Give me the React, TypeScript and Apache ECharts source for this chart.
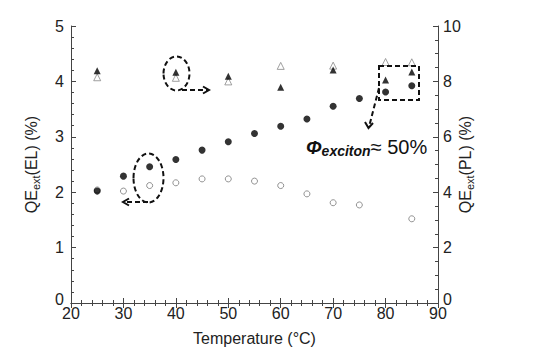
import React, { useEffect, useRef } from "react";
import * as echarts from "echarts";

const temps = [25, 30, 35, 40, 45, 50, 55, 60, 65, 70, 75, 80, 85];
const elFilled = [2.02, 2.29, 2.46, 2.59, 2.76, 2.91, 3.06, 3.19, 3.32, 3.55, 3.69, 3.81, 3.92];
const elOpenTemps = [25, 30, 35, 40, 45, 50, 55, 60, 65, 70, 75, 85];
const elOpen = [2.04, 2.02, 2.12, 2.17, 2.24, 2.24, 2.2, 2.12, 1.97, 1.81, 1.77, 1.52];
const plTemps = [25, 40, 50, 60, 70, 80, 85];
const plFilled = [8.38, 8.33, 8.19, 7.79, 8.41, 8.05, 8.34];
const plOpen = [8.15, 8.13, 8.0, 8.56, 8.57, 8.7, 8.69];
const xTicks = [20, 30, 40, 50, 60, 70, 80, 90];

const FONT = "Liberation Sans, Arial, sans-serif";
const TXT = "#222";
const AX = "#444";

export default function App() {
  const ref = useRef<HTMLDivElement>(null);
  useEffect(() => {
    if (!ref.current) return;
    const chart = echarts.init(ref.current, undefined, { renderer: "svg" });
    const pair = (xs: number[], ys: number[]) => xs.map((x, i) => [x, ys[i]]);
    const axisCommon = {
      axisLine: { show: true, lineStyle: { color: AX, width: 1 } },
      axisTick: { show: true, inside: true, length: 5, lineStyle: { color: AX } },
      minorTick: { show: true, length: 3, lineStyle: { color: AX } },
      splitLine: { show: false },
      minorSplitLine: { show: false },
    };
    const dash = { stroke: "#111", lineWidth: 2, lineDash: [5, 3], fill: "none" };
    const solid = { stroke: "#111", lineWidth: 2, fill: "none" };
    const subRich = {
      a: { fontSize: 16, color: TXT, fontFamily: FONT, lineHeight: 20 },
      s: { fontSize: 11, color: TXT, fontFamily: FONT, lineHeight: 20, verticalAlign: "bottom", padding: [8, 0, 0, 0] },
    };
    const zeroLift = (v: number) => (v === 0 ? "{z|0}" : String(v));
    const zeroRich = { z: { fontSize: 16, color: TXT, fontFamily: FONT, padding: [0, 0, 8, 0] } };
    chart.setOption({
      animation: false,
      backgroundColor: "#fff",
      textStyle: { fontFamily: FONT },
      grid: { left: 71, right: 116, top: 26, bottom: 48 },
      xAxis: [
        {
          type: "value",
          min: xTicks[0],
          max: xTicks[xTicks.length - 1],
          interval: 10,
          ...axisCommon,
          minorTick: { show: true, splitNumber: 5, length: 3, lineStyle: { color: AX } },
          axisLabel: { color: TXT, fontSize: 16, margin: 2, fontFamily: FONT },
          name: "Temperature (°C)",
          nameLocation: "middle",
          nameGap: 27,
          nameMoveOverlap: false,
          nameTextStyle: { color: TXT, fontSize: 16, fontFamily: FONT },
        },
        {
          type: "value",
          position: "top",
          min: xTicks[0],
          max: xTicks[xTicks.length - 1],
          interval: 10,
          ...axisCommon,
          minorTick: { show: true, splitNumber: 5, length: 3, lineStyle: { color: AX } },
          axisLabel: { show: false },
        },
      ],
      yAxis: [
        {
          type: "value",
          min: 0,
          max: 5,
          interval: 1,
          ...axisCommon,
          minorTick: { show: true, splitNumber: 5, length: 3, lineStyle: { color: AX } },
          axisLabel: { color: TXT, fontSize: 16, margin: 7, fontFamily: FONT, formatter: zeroLift, rich: zeroRich },
          name: "{a|QE}{s|ext}{a|(EL) (%)}",
          nameLocation: "middle",
          nameGap: 30,
          nameRotate: 90,
          nameMoveOverlap: false,
          nameTextStyle: { rich: subRich },
        },
        {
          type: "value",
          position: "right",
          min: 0,
          max: 10,
          interval: 2,
          ...axisCommon,
          minorTick: { show: true, splitNumber: 4, length: 3, lineStyle: { color: AX } },
          axisLabel: { color: TXT, fontSize: 16, margin: 5, fontFamily: FONT, formatter: zeroLift, rich: zeroRich },
          name: "{a|QE}{s|ext}{a|(PL) (%)}",
          nameLocation: "middle",
          nameGap: 17,
          nameRotate: 90,
          nameMoveOverlap: false,
          nameTextStyle: { rich: subRich },
        },
      ],
      series: [
        {
          name: "EL open",
          type: "scatter",
          xAxisIndex: 0,
          yAxisIndex: 0,
          symbol: "circle",
          symbolSize: 6,
          itemStyle: { color: "#fff", borderColor: "#777", borderWidth: 1 },
          data: pair(elOpenTemps, elOpen),
        },
        {
          name: "EL filled",
          type: "scatter",
          xAxisIndex: 0,
          yAxisIndex: 0,
          symbol: "circle",
          symbolSize: 7,
          itemStyle: { color: "#000" },
          data: pair(temps, elFilled),
        },
        {
          name: "PL open",
          type: "scatter",
          xAxisIndex: 0,
          yAxisIndex: 1,
          symbol: "triangle",
          symbolSize: 7,
          itemStyle: { color: "#fff", borderColor: "#888", borderWidth: 1 },
          data: pair(plTemps, plOpen),
        },
        {
          name: "PL filled",
          type: "scatter",
          xAxisIndex: 0,
          yAxisIndex: 1,
          symbol: "triangle",
          symbolSize: 7,
          itemStyle: { color: "#000" },
          data: pair(plTemps, plFilled),
        },
      ],
      graphic: [
        { type: "ellipse", shape: { cx: 176.5, cy: 73.5, rx: 13, ry: 17 }, style: dash, z: 10 },
        { type: "line", shape: { x1: 182, y1: 90, x2: 209, y2: 90 }, style: dash, z: 10 },
        { type: "polyline", shape: { points: [[203, 86.5], [209, 90], [203, 93.5]] }, style: solid, z: 10 },
        { type: "ellipse", shape: { cx: 148.5, cy: 178, rx: 15, ry: 24.5 }, style: dash, z: 10 },
        { type: "line", shape: { x1: 148, y1: 202, x2: 123, y2: 202 }, style: dash, z: 10 },
        { type: "polyline", shape: { points: [[129, 198.5], [123, 202], [129, 205.5]] }, style: solid, z: 10 },
        { type: "rect", shape: { x: 379, y: 66, width: 40, height: 34 }, style: dash, z: 10 },
        { type: "line", shape: { x1: 379, y1: 88, x2: 369, y2: 127 }, style: dash, z: 10 },
        { type: "polyline", shape: { points: [[365, 122], [368.5, 128], [373, 123]] }, style: solid, z: 10 },
        {
          type: "text",
          left: 306,
          top: 136,
          z: 10,
          style: {
            text: "{p|Φ}{s|exciton}{n|≈ 50%}",
            rich: {
              p: { fontSize: 19, fontWeight: "bold", fontStyle: "italic", fill: "#111", fontFamily: FONT, lineHeight: 22 },
              s: { fontSize: 14, fontWeight: "bold", fontStyle: "italic", fill: "#111", fontFamily: FONT, lineHeight: 22, verticalAlign: "bottom", padding: [8, 0, 0, 0] },
              n: { fontSize: 20, fill: "#111", fontFamily: FONT, lineHeight: 22 },
            },
          },
        },
      ],
    });
    return () => chart.dispose();
  }, []);
  return <div ref={ref} style={{ width: 554, height: 351, position: "absolute", left: 0, top: 0 }} />;
}
